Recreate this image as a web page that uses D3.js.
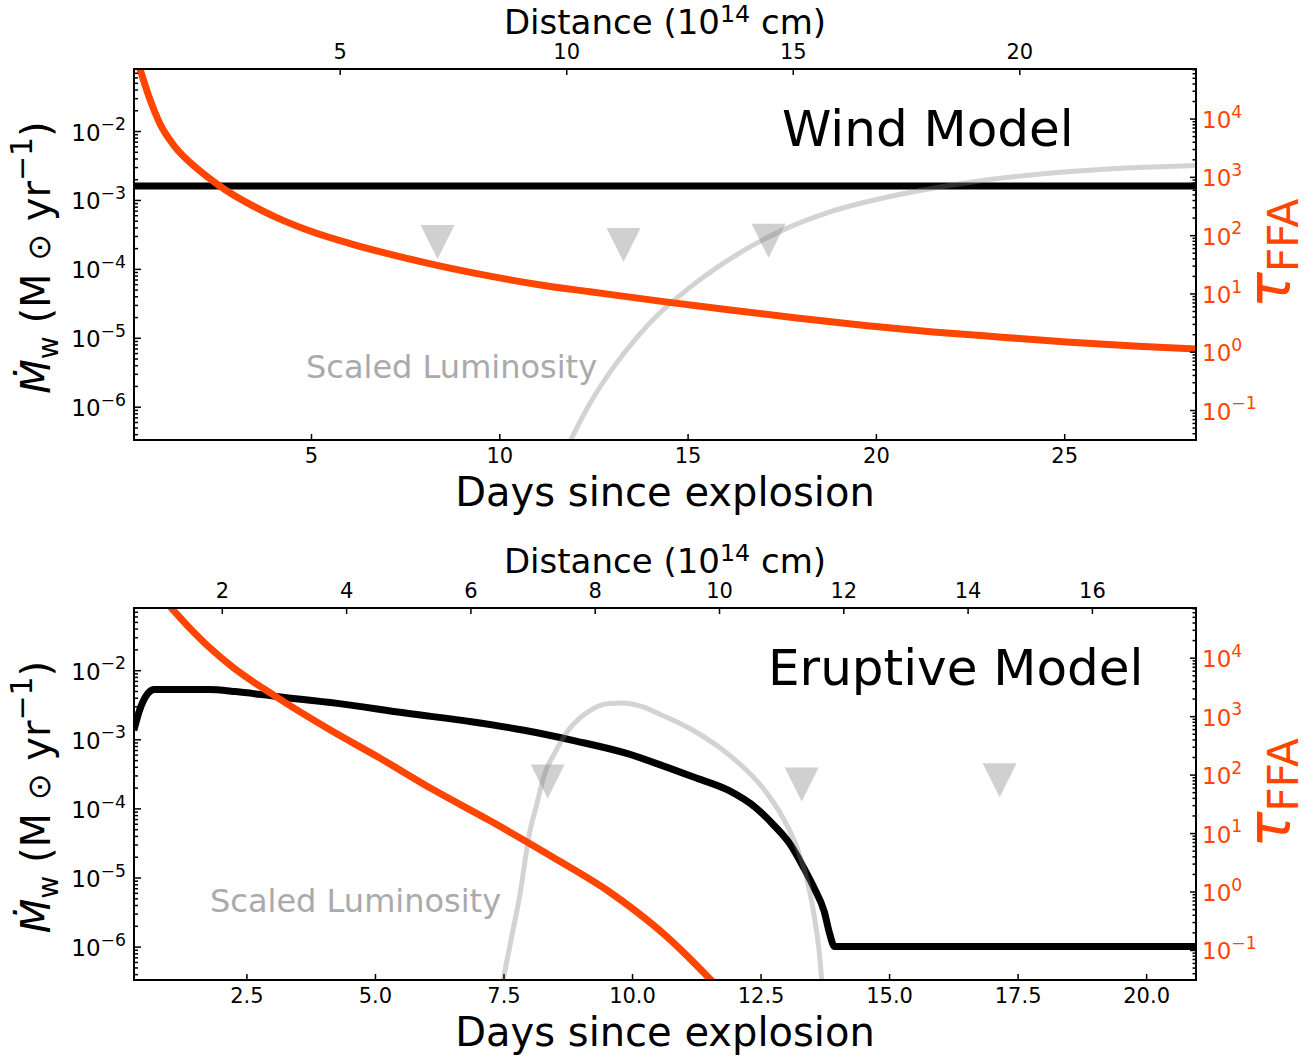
<!DOCTYPE html>
<html><head><meta charset="utf-8">
<script src="https://cdn.jsdelivr.net/npm/d3@7"></script>
<style>body{margin:0;background:#fff} text{font-family:"DejaVu Sans",sans-serif}</style>
</head><body><svg id="c" width="1315" height="1057"></svg>
<script>
// ---------------- data ----------------
const windMdotDays = [0.30, 28.5];
const windMdot = [1.6e-3, 1.6e-3];
const windTauDays = [0.45, 0.69, 1.0, 1.4, 1.94, 2.56, 3.37, 4.09, 5.07, 6.06, 7.22, 8.38, 9.72, 11.06, 12.41, 14.36, 16.08, 17.9, 19.71, 21.52, 23.34, 25.16, 26.97, 28.5];
const windTau = [7.4e4, 2.45e4, 7.9e3, 3.2e3, 1.45e3, 7.1e2, 3.4e2, 2.0e2, 1.12e2, 71, 45, 30, 20, 14.1, 10.7, 7.24, 5.25, 3.8, 2.82, 2.19, 1.78, 1.46, 1.245, 1.11];
const windLumDays = [11.75, 11.91, 12.41, 13.03, 13.66, 14.36, 14.72, 15.44, 16.53, 17.44, 18.8, 20.62, 22.43, 24.25, 26.06, 28.5];
const windLum = [2.24e-7, 3.39e-7, 1.12e-6, 3.72e-6, 1.02e-5, 2.57e-5, 3.8e-5, 7.76e-5, 1.9e-4, 3.47e-4, 6.76e-4, 1.2e-3, 1.78e-3, 2.34e-3, 2.79e-3, 3.16e-3];

const limitDays = [8.36, 13.3, 17.15];
const limitLum = [2.45e-4, 2.22e-4, 2.55e-4];

const eruptMdotDays = [0.31, 0.445, 0.578, 0.71, 1.76, 2.29, 3.08, 4.27, 5.59, 6.91, 7.90, 8.89, 9.88, 10.55, 11.21, 11.88, 12.41, 12.74, 13.08, 13.34, 13.54, 13.74, 13.84, 13.94, 20.97];
const eruptMdot = [1.35e-3, 2.95e-3, 4.57e-3, 5.25e-3, 5.25e-3, 4.9e-3, 4.17e-3, 3.31e-3, 2.4e-3, 1.78e-3, 1.35e-3, 9.5e-4, 6.3e-4, 4.27e-4, 2.82e-4, 1.82e-4, 1.02e-4, 5.9e-5, 3.0e-5, 1.38e-5, 7.1e-6, 3.2e-6, 1.58e-6, 1.0e-6, 1.0e-6];
const eruptTauDays = [0.88, 1.006, 1.37, 1.76, 2.23, 3.08, 4.14, 5.06, 6.12, 7.24, 8.43, 9.55, 10.08, 10.66, 11.21, 11.65];
const eruptTau = [1e5, 7.6e4, 3.4e4, 1.55e4, 6.9e3, 2.14e3, 575, 200, 56, 16.2, 4.0, 1.0, 0.457, 0.174, 0.060, 0.024];
const eruptLumDays = [7.45, 7.50, 7.64, 7.83, 8.00, 8.13, 8.30, 8.49, 8.76, 9.09, 9.55, 9.81, 10.21, 10.55, 11.21, 11.88, 12.54, 12.94, 13.21, 13.41, 13.54, 13.64, 13.68, 13.70];
const eruptLum = [2.0e-7, 3.4e-7, 1.17e-6, 6.3e-6, 4.2e-5, 1.02e-4, 3.16e-4, 6.2e-4, 1.35e-3, 2.34e-3, 3.31e-3, 3.35e-3, 2.95e-3, 2.29e-3, 1.32e-3, 6.0e-4, 2.0e-4, 7.2e-5, 2.7e-5, 8.9e-6, 2.9e-6, 8.5e-7, 4.0e-7, 2.5e-7];

const windDayTicks = [5, 10, 15, 20, 25];
const windDistTicks = [5, 10, 15, 20];
const eruptDayTicks = [2.5, 5.0, 7.5, 10.0, 12.5, 15.0, 17.5, 20.0];
const eruptDistTicks = [2, 4, 6, 8, 10, 12, 14, 16];
const mdotTicks = [1e-6, 1e-5, 1e-4, 1e-3, 1e-2];
const tauTicks = [1e-1, 1, 10, 100, 1e3, 1e4];

const panelTitles = ["Wind Model", "Eruptive Model"];
const lumLabel = "Scaled Luminosity";
const xLabel = "Days since explosion";

// ---------------- drawing ----------------
const svg = d3.select("#c");
const PL = 134, PR = 1196;
const ORANGE = "#ff4500";
const FONT = "DejaVu Sans";

function minorTicks(domain) {
  const out = [];
  for (let k = -8; k <= 6; k++) for (let m = 2; m <= 9; m++) {
    const v = m * Math.pow(10, k);
    if (v >= domain[0] && v <= domain[1]) out.push(v);
  }
  return out;
}
const minus = s => String(s).replace("-", "\u2212");

const panels = [
  {y0: 69, y1: 440, days: [0.30, 28.5], dist: [0.46, 23.9], dayTicks: windDayTicks, distTicks: windDistTicks, dayFmt: d3.format("d"),
   mdotD: windMdotDays, mdot: windMdot, tauD: windTauDays, tau: windTau, lumD: windLumDays, lum: windLum,
   title: panelTitles[0], titleX: 782, titleY: 146, lumX: 306, lumY: 378},
  {y0: 608, y1: 980, days: [0.313, 20.97], dist: [0.587, 17.675], dayTicks: eruptDayTicks, distTicks: eruptDistTicks, dayFmt: d3.format(".1f"),
   mdotD: eruptMdotDays, mdot: eruptMdot, tauD: eruptTauDays, tau: eruptTau, lumD: eruptLumDays, lum: eruptLum,
   title: panelTitles[1], titleX: 768, titleY: 685, lumX: 210, lumY: 912}
];

panels.forEach((p, i) => {
  const g = svg.append("g");
  const x = d3.scaleLinear().domain(p.days).range([PL, PR]);
  const xd = d3.scaleLinear().domain(p.dist).range([PL, PR]);
  const yDom = [Math.pow(10, -6.483), Math.pow(10, -1.1)];
  const rDom = [Math.pow(10, -1.514), Math.pow(10, 4.85)];
  const yL = d3.scaleLog().domain(yDom).range([p.y1, p.y0]);
  const yR = d3.scaleLog().domain(rDom).range([p.y1, p.y0]);

  const cid = "clip" + i;
  svg.append("clipPath").attr("id", cid).append("rect")
    .attr("x", PL).attr("y", p.y0).attr("width", PR - PL).attr("height", p.y1 - p.y0);
  const plot = g.append("g").attr("clip-path", `url(#${cid})`);

  const lineL = d3.line().x(d => x(d[0])).y(d => yL(d[1])).curve(d3.curveMonotoneX);
  const lineR = d3.line().x(d => x(d[0])).y(d => yR(d[1])).curve(d3.curveMonotoneX);

  plot.append("path").attr("d", lineL(d3.zip(p.mdotD, p.mdot)))
    .attr("fill", "none").attr("stroke", "#000").attr("stroke-width", 7).attr("stroke-linejoin", "round");
  plot.append("path").attr("d", lineL(d3.zip(p.lumD, p.lum)))
    .attr("fill", "none").attr("stroke", "#808080").attr("stroke-opacity", 0.35).attr("stroke-width", 5).attr("stroke-linejoin", "round");
  plot.selectAll("path.lim").data(d3.zip(limitDays, limitLum)).join("path").attr("class", "lim")
    .attr("transform", d => `translate(${x(d[0])},${yL(d[1])})`)
    .attr("d", "M-17,-17L17,-17L0,17Z")
    .attr("fill", "#808080").attr("fill-opacity", 0.37);
  plot.append("path").attr("d", lineR(d3.zip(p.tauD, p.tau)))
    .attr("fill", "none").attr("stroke", ORANGE).attr("stroke-width", 7).attr("stroke-linejoin", "round");

  // spines
  g.append("rect").attr("x", PL).attr("y", p.y0).attr("width", PR - PL).attr("height", p.y1 - p.y0)
    .attr("fill", "none").attr("stroke", "#000").attr("stroke-width", 2);

  function style(ax, color, size) {
    ax.attr("font-family", FONT).attr("font-size", size || 21);
    ax.select(".domain").remove();
    ax.selectAll(".tick line").attr("stroke", "#000").attr("stroke-width", 1.5);
    ax.selectAll(".tick text").attr("fill", color || "#000");
  }
  function expLabels(ax) {
    ax.selectAll(".tick text").each(function(d) {
      const e = Math.round(Math.log10(d));
      const t = d3.select(this).text(null).attr("dy", "0.39em");
      t.append("tspan").text("10");
      t.append("tspan").attr("font-size", "0.75em").attr("dy", "-0.6em").text(minus(e));
    });
  }

  // bottom days axis
  const axB = g.append("g").attr("transform", `translate(0,${p.y1})`)
    .call(d3.axisBottom(x).tickValues(p.dayTicks).tickFormat(p.dayFmt).tickSizeInner(-6).tickSizeOuter(0).tickPadding(8));
  style(axB);
  // top distance axis
  const axT = g.append("g").attr("transform", `translate(0,${p.y0})`)
    .call(d3.axisTop(xd).tickValues(p.distTicks).tickFormat(d3.format("d")).tickSizeInner(-6).tickSizeOuter(0).tickPadding(10));
  style(axT);
  // left log axis
  const axL = g.append("g").attr("transform", `translate(${PL},0)`)
    .call(d3.axisLeft(yL).tickValues(mdotTicks).tickSizeInner(-7).tickSizeOuter(0).tickPadding(8).tickFormat(() => ""));
  style(axL, "#000", 23); expLabels(axL);
  const axLm = g.append("g").attr("transform", `translate(${PL},0)`)
    .call(d3.axisLeft(yL).tickValues(minorTicks(yDom)).tickSizeInner(-4).tickSizeOuter(0).tickFormat(() => ""));
  style(axLm);
  // right log axis
  const axR = g.append("g").attr("transform", `translate(${PR},0)`)
    .call(d3.axisRight(yR).tickValues(tauTicks).tickSizeInner(-6).tickSizeOuter(0).tickPadding(6).tickFormat(() => ""));
  style(axR, ORANGE, 23); expLabels(axR);
  const axRm = g.append("g").attr("transform", `translate(${PR},0)`)
    .call(d3.axisRight(yR).tickValues(minorTicks(rDom)).tickSizeInner(-3.5).tickSizeOuter(0).tickFormat(() => ""));
  style(axRm);

  // texts
  g.append("text").attr("x", p.titleX).attr("y", p.titleY).attr("font-size", 50).attr("fill", "#000").text(p.title);
  g.append("text").attr("x", p.lumX).attr("y", p.lumY).attr("font-size", 32).attr("fill", "#aaaaaa").text(lumLabel);

  const xc = (PL + PR) / 2;
  g.append("text").attr("x", xc).attr("y", p.y1 + 66).attr("text-anchor", "middle").attr("font-size", 40).text(xLabel);
  const dt = g.append("text").attr("x", xc).attr("y", p.y0 - 35).attr("text-anchor", "middle").attr("font-size", 34);
  dt.append("tspan").text("Distance (10");
  dt.append("tspan").attr("font-size", "0.7em").attr("dy", "-0.5em").text("14");
  dt.append("tspan").attr("dy", "0.35em").text(" cm)");

  const yc = (p.y0 + p.y1) / 2;
  const yl = g.append("text").attr("transform", `translate(50,${yc + 3}) rotate(-90)`).attr("text-anchor", "middle").attr("font-size", 40);
  yl.append("tspan").attr("font-style", "italic").text("\u1E40");
  yl.append("tspan").attr("font-size", "0.7em").attr("dy", "0.3em").text("w");
  yl.append("tspan").attr("dy", "-0.21em").text(" (M ");
  yl.append("tspan").attr("font-size", "0.8em").text("\u2299");
  yl.append("tspan").text(" yr");
  yl.append("tspan").attr("font-size", "0.75em").attr("dy", "-0.6em").text("\u22121");
  yl.append("tspan").attr("dy", "0.45em").text(")");

  const rl = g.append("text").attr("transform", `translate(1290,${yc - 1}) rotate(-90)`).attr("text-anchor", "middle").attr("font-size", 60).attr("fill", ORANGE);
  rl.append("tspan").attr("font-style", "italic").text("\u03C4");
  rl.append("tspan").attr("font-size", "0.7em").attr("dy", "0.18em").text("FFA");
});
</script></body></html>
